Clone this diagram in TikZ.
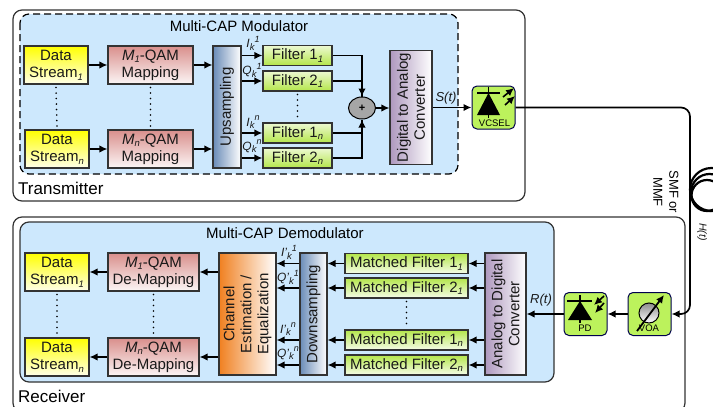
\documentclass[tikz,border=0pt]{standalone}
\usepackage{fontspec}
\setmainfont{Liberation Sans}
\usetikzlibrary{arrows.meta}
\usetikzlibrary{calc}
\usetikzlibrary{shapes.geometric}
\definecolor{panelblue}{HTML}{CDE8FD}
\definecolor{edgegrey}{HTML}{333333}
\definecolor{mapred}{HTML}{D98F8C}
\definecolor{filtgreen}{HTML}{B4E64A}
\definecolor{iconbg}{HTML}{BCF25C}
\definecolor{upblue}{HTML}{6A8CB8}
\definecolor{convpurple}{HTML}{AE98BE}
\definecolor{chanorange}{HTML}{F08020}
\newcommand{\lowidx}[1]{\raisebox{-0.35ex}{\fontsize{9.5}{10}\selectfont\itshape #1}}
\newcommand{\upidx}[1]{\raisebox{0.9ex}{\fontsize{9}{10}\selectfont\itshape #1}}

\begin{document}
\begin{tikzpicture}[
	x=1pt, y=-1pt,
	> = {Latex[length=8pt,width=7.5pt]},
	every node/.style={font=\fontsize{15}{17}\selectfont},
	panel/.style = {draw=edgegrey,line width=1.2pt,rounded corners=9pt},
	block/.style = {draw=edgegrey,line width=1.1pt,align=center,inner sep=0pt,text=black!90},
	datastream/.style = {block,minimum width=64pt,minimum height=38pt,top color=yellow,bottom color=yellow!8},
	qammap/.style = {block,minimum height=38pt,top color=mapred,bottom color=mapred!8},
	txfilter/.style = {block,minimum width=69pt,minimum height=20pt,top color=filtgreen!25,bottom color=filtgreen},
	rxfilter/.style = {block,minimum width=123pt,minimum height=20pt,top color=filtgreen,bottom color=filtgreen!12},
	tallblock/.style = {block,rotate=90,minimum width=122pt},
	icon/.style = {draw=black!70!blue,line width=1pt,fill=iconbg,rounded corners=5pt,minimum width=43pt,minimum height=43pt},
	iconlabel/.style = {font=\fontsize{9.5}{10}\selectfont,inner sep=0pt},
	iq/.style = {font=\fontsize{12}{13}\selectfont\itshape,inner sep=0pt,text=black!90},
	timelabel/.style = {iq,font=\fontsize{13}{14}\selectfont\itshape},
	link/.style = {->,line width=1.7pt},
	feed/.style = {line width=1.7pt},
	dotline/.style = {line width=1.8pt,line cap=round,dash pattern=on 0pt off 5.5pt}
	]
	\useasboundingbox (0,0) rectangle (713,407);

	% transmitter side
	\draw[panel,fill=white] (13,10) rectangle (525,201);
	\draw[panel,draw=black,dash pattern=on 7pt off 4pt,fill=panelblue] (20,14) rectangle (458,174);
	\node[inner sep=0pt] (modtitle) at (239,26) {Multi-CAP Modulator};
	\node[inner sep=0pt,anchor=west,font=\fontsize{17}{19}\selectfont] (txname) at (18,188) {Transmitter};

	\node[datastream] (ds1) at (56,65) {Data\\Stream\lowidx{1}};
	\node[datastream] (dsn) at (57,149) {Data\\Stream\lowidx{n}};
	\node[qammap,minimum width=85pt] (map1) at (150.5,65) {\textit{M\lowidx{1}}-QAM\\Mapping};
	\node[qammap,minimum width=85pt] (mapn) at (150.5,149) {\textit{M\lowidx{n}}-QAM\\Mapping};
	\node[tallblock,minimum height=28pt,left color=upblue,right color=white] (upsamp) at (227,107) {Upsampling};

	\node[txfilter] (filt11) at (297.5,55.5) {Filter 1\lowidx{1}};
	\node[txfilter] (filt21) at (297.5,81) {Filter 2\lowidx{1}};
	\node[txfilter] (filt1n) at (297.5,133) {Filter 1\lowidx{n}};
	\node[txfilter] (filt2n) at (297.5,158) {Filter 2\lowidx{n}};

	\node[ellipse,draw=black,line width=1pt,fill=black!35,minimum width=27pt,minimum height=22pt,inner sep=0pt,font=\bfseries\fontsize{11}{12}\selectfont] (adder) at (362,108) {+};
	\node[tallblock,minimum width=114pt,minimum height=42pt,left color=convpurple,right color=white] (dac) at (411,107.5) {Digital to Analog\\Converter};
	\node[icon] (vcsel) at (493.5,107.5) {};

	\draw[link] (ds1) -- (map1);
	\draw[link] (dsn) -- (mapn);
	\draw[link] (map1) -- (map1 -| upsamp.north);
	\draw[link] (mapn) -- (mapn -| upsamp.north);
	\draw[link] (filt11 -| upsamp.south) -- (filt11);
	\draw[link] (filt21 -| upsamp.south) -- (filt21);
	\draw[link] (filt1n -| upsamp.south) -- (filt1n);
	\draw[link] (filt2n -| upsamp.south) -- (filt2n);
	\draw[feed] (filt21) -| (adder);
	\draw[link] (filt11) -| (adder);
	\draw[feed] (filt1n) -| (adder);
	\draw[link] (filt2n) -| (adder);
	\draw[link] (adder) -- (adder -| dac.north);
	\draw[link] (dac.south) -- (vcsel);

	\draw[dotline] (ds1.south) ++(0,3) -- ($(dsn.north)+(0,-3)$);
	\draw[dotline] (map1.south) ++(0,3) -- ($(mapn.north)+(0,-3)$);
	\draw[dotline] (filt21.south) ++(0,3) -- ($(filt1n.north)+(0,-4)$);

	\node[iq] (i1) at (253,43) {I\lowidx{k}\upidx{1}};
	\node[iq] (q1) at (252,70) {Q\lowidx{k}\upidx{1}};
	\node[iq] (in) at (253,122) {I\lowidx{k}\upidx{n}};
	\node[iq] (qn) at (252,146) {Q\lowidx{k}\upidx{n}};
	\node[timelabel] (st) at (446,98) {S(t)};

	% diode of the laser
	\fill (477,115) -- (500,115) -- (488.5,93) -- cycle;
	\draw[line width=1.8pt] (488.5,87) -- (488.5,118) (477,93) -- (500,93);
	\draw[->,line width=1.6pt] (503,97) -- (514,88);
	\draw[->,line width=1.6pt] (505,105) -- (515,96);
	\node[iconlabel] (vcsellabel) at (494.5,123.5) {VCSEL};

	% fibre
	\coordinate (fibtop) at (690,107.5);
	\coordinate (fibbot) at (690,314);
	\draw[line width=2.2pt] (711.5,189.5) circle (21.5);
	\draw[line width=2.2pt] (709.5,192.5) circle (18.5);
	\draw[line width=2.2pt] (707,195.5) circle (15.5);

	% receiver side
	\draw[panel,fill=white] (13,217) rectangle (685,412);
	\draw[panel,fill=panelblue] (20,222) rectangle (554,382);
	\node[inner sep=0pt] (demodtitle) at (285,233) {Multi-CAP Demodulator};
	\node[inner sep=0pt,anchor=west,font=\fontsize{17}{19}\selectfont] (rxname) at (18,396) {Receiver};

	\node[datastream] (rds1) at (57,272) {Data\\Stream\lowidx{1}};
	\node[datastream] (rdsn) at (57,357) {Data\\Stream\lowidx{n}};
	\node[qammap,minimum width=91pt] (demap1) at (153.5,272) {\textit{M\lowidx{1}}-QAM\\De-Mapping};
	\node[qammap,minimum width=91pt] (demapn) at (153.5,357) {\textit{M\lowidx{n}}-QAM\\De-Mapping};
	\node[tallblock,minimum height=57pt,left color=chanorange,right color=white] (chan) at (247.5,314) {Channel\\Estimation /\\Equalization};
	\node[tallblock,minimum height=27pt,left color=upblue,right color=white] (downsamp) at (313.5,314) {Downsampling};

	\node[rxfilter] (mf11) at (406.5,263.5) {Matched Filter 1\lowidx{1}};
	\node[rxfilter] (mf21) at (406.5,288) {Matched Filter 2\lowidx{1}};
	\node[rxfilter] (mf1n) at (406.5,340) {Matched Filter 1\lowidx{n}};
	\node[rxfilter] (mf2n) at (406.5,365) {Matched Filter 2\lowidx{n}};

	\node[tallblock,minimum height=41pt,left color=convpurple,right color=white] (adc) at (505.5,314) {Analog to Digital\\Converter};
	\node[icon] (pd) at (585.5,314) {};
	\node[icon] (voa) at (649.5,314) {};

	\draw[link,rounded corners=9pt] (vcsel.east) -- (fibtop) -- (fibbot) -- (voa.east);
	\draw[link] (voa) -- (pd);
	\draw[link] (pd) -- (adc.south);
	\draw[link] (mf11 -| adc.north) -- (mf11);
	\draw[link] (mf21 -| adc.north) -- (mf21);
	\draw[link] (mf1n -| adc.north) -- (mf1n);
	\draw[link] (mf2n -| adc.north) -- (mf2n);
	\draw[link] (mf11) -- (mf11 -| downsamp.south);
	\draw[link] (mf21) -- (mf21 -| downsamp.south);
	\draw[link] (mf1n) -- (mf1n -| downsamp.south);
	\draw[link] (mf2n) -- (mf2n -| downsamp.south);
	\draw[link] (mf11 -| downsamp.north) -- (mf11 -| chan.south);
	\draw[link] (mf21 -| downsamp.north) -- (mf21 -| chan.south);
	\draw[link] (mf1n -| downsamp.north) -- (mf1n -| chan.south);
	\draw[link] (mf2n -| downsamp.north) -- (mf2n -| chan.south);
	\draw[link] (demap1 -| chan.north) -- (demap1);
	\draw[link] (demapn -| chan.north) -- (demapn);
	\draw[link] (demap1) -- (rds1);
	\draw[link] (demapn) -- (rdsn);

	\draw[dotline] (rds1.south) ++(0,3) -- ($(rdsn.north)+(0,-3)$);
	\draw[dotline] (demap1.south) ++(0,3) -- ($(demapn.north)+(0,-3)$);
	\draw[dotline] (mf21.south) ++(0,3) -- ($(mf1n.north)+(0,-4)$);

	\node[iq] (ri1) at (289,252) {I'\lowidx{k}\upidx{1}};
	\node[iq] (rq1) at (288,277) {Q'\lowidx{k}\upidx{1}};
	\node[iq] (rin) at (288,329) {I'\lowidx{k}\upidx{n}};
	\node[iq] (rqn) at (288,353) {Q'\lowidx{k}\upidx{n}};
	\node[timelabel] (rt) at (541,300) {R(t)};

	% diode of the receiver
	\fill (568,320) -- (592,320) -- (580,301) -- cycle;
	\draw[line width=1.8pt] (580,295) -- (580,323) (567,301) -- (592,301);
	\draw[->,line width=1.6pt] (604,296) -- (594,305);
	\draw[->,line width=1.6pt] (604,303) -- (595,313);
	\node[iconlabel] (pdlabel) at (585,328) {PD};

	% attenuator
	\draw[line width=1pt,top color=black!45,bottom color=white] (649,313) circle (10);
	\draw[->,line width=1.8pt] (637,331) -- (664,295);
	\node[iconlabel] (voalabel) at (649,328) {VOA};

	\node[rotate=-90,align=center,inner sep=0pt,font=\fontsize{13}{16}\selectfont] (fibname) at (666,192) {SMF or\\MMF};
	\node[iq,rotate=-90,font=\fontsize{10.5}{11}\selectfont\itshape] (ht) at (702,232) {H(t)};
\end{tikzpicture}
\end{document}
